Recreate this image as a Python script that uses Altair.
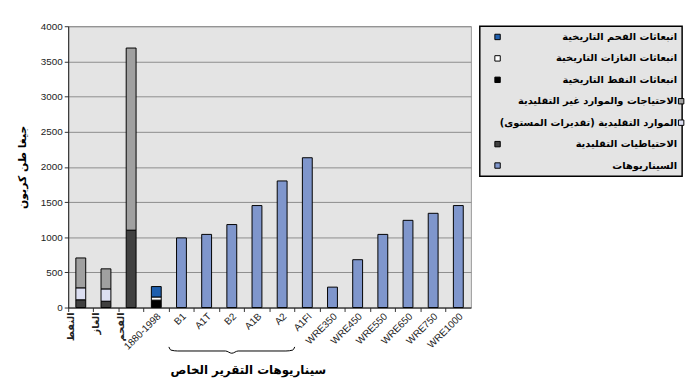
import json
import altair as alt
import pandas as pd

# ---------------- data ----------------
categories = ["النفط", "الغاز", "الفحم", "1880-1998", "B1", "A1T", "B2", "A1B", "A2", "A1FI",
              "WRE350", "WRE450", "WRE550", "WRE650", "WRE750", "WRE1000"]
resource_categories = ["النفط", "الغاز", "الفحم"]
conventional_reserves = [110, 90, 1100]
conventional_resources = [170, 175, 0]
unconventional = [425, 285, 2590]
history_label = "1880-1998"
history_oil = 105
history_gas = 45
history_coal = 148
scenario_labels = ["B1", "A1T", "B2", "A1B", "A2", "A1FI",
                   "WRE350", "WRE450", "WRE550", "WRE650", "WRE750", "WRE1000"]
scenario_values = [990, 1040, 1180, 1450, 1800, 2130, 290, 680, 1040, 1240, 1340, 1450]

series_names = [
    "انبعاثات الفحم التاريخية",
    "انبعاثات الغازات التاريخية",
    "انبعاثات النفط التاريخية",
    "الاحتياجات والموارد غير التقليدية",
    "الموارد التقليدية (تقديرات المستوى)",
    "الاحتياطيات التقليدية",
    "السيناريوهات",
]
series_colors = ["#1f5fae", "#ffffff", "#000000", "#a0a0a0", "#dcdff2", "#404040", "#7f96cc"]

y_title = "جيغا طن كربون"
x_title = "سيناريوهات التقرير الخاص"
y_ticks = [0, 500, 1000, 1500, 2000, 2500, 3000, 3500, 4000]

# brace under the SRES scenarios (x in category-index units, y in data units)
brace_x = [4.0, 4.08, 4.35, 6.25, 6.5, 6.75, 8.65, 8.92, 9.0]
brace_y = [-560, -605, -618, -618, -650, -618, -618, -605, -560]

# ---------------- tables ----------------
rows = []
for c, a, b, u in zip(resource_categories, conventional_reserves, conventional_resources, unconventional):
    rows += [(c, series_names[5], a), (c, series_names[4], b), (c, series_names[3], u)]
rows += [(history_label, series_names[2], history_oil),
         (history_label, series_names[1], history_gas),
         (history_label, series_names[0], history_coal)]
rows += [(c, series_names[6], v) for c, v in zip(scenario_labels, scenario_values)]
df = pd.DataFrame(rows, columns=["cat", "series", "value"])
df = df[df["value"] > 0].copy()
df["idx"] = df["series"].map({n: i for i, n in enumerate(series_names)})

W, H = 408, 285
xscale = alt.Scale(domain=categories, paddingInner=0, paddingOuter=0)
yscale = alt.Scale(domain=[0, 4000], nice=False)
color = alt.Color("series:N", scale=alt.Scale(domain=series_names, range=series_colors), legend=None)

arabic_expr = "indexof(" + json.dumps(resource_categories, ensure_ascii=False) + ", datum.value) >= 0 ? '' : datum.label"

bars = alt.Chart(df).mark_bar(size=10, stroke="black", strokeWidth=1).encode(
    x=alt.X("cat:N", scale=xscale, sort=categories,
            axis=alt.Axis(title=x_title, bandPosition=0, labelOffset=3, labelAngle=-45,
                          labelAlign="right", labelBaseline="middle", labelExpr=arabic_expr,
                          tickSize=4, tickColor="#333", domainColor="#222",
                          labelFont="Liberation Sans", labelFontSize=10, labelColor="#222",
                          labelPadding=3,
                          titleFont="DejaVu Sans", titleFontSize=12, titleFontWeight="bold",
                          titleColor="black", titleX=182, titleY=63, titleAlign="center",
                          titleBaseline="middle")),
    y=alt.Y("value:Q", stack="zero", scale=yscale,
            axis=alt.Axis(values=y_ticks, format="d", grid=True, gridColor="#8c8c8c", gridWidth=1,
                          tickSize=4, tickColor="#333", domainColor="#222",
                          labelFont="Liberation Sans", labelFontSize=10, labelColor="#222",
                          labelPadding=2,
                          title=y_title, titleFont="DejaVu Sans", titleFontSize=11,
                          titleFontWeight="bold", titleColor="black", titlePadding=13)),
    color=color,
    order=alt.Order("idx:Q", sort="descending"),
)

# rotated labels for the three fuel categories (dy acts across the rotated text)
arab_labels = alt.Chart(pd.DataFrame({"cat": resource_categories})).mark_text(
    angle=270, align="right", baseline="middle", font="DejaVu Sans", fontSize=10,
    fontWeight="bold", color="#222", dy=-10
).encode(
    x=alt.X("cat:N", scale=xscale, sort=categories, axis=None),
    y=alt.value(H + 5),
    text="cat:N",
)

brace = alt.Chart(pd.DataFrame({"bx": brace_x, "by": brace_y})).mark_line(
    color="black", strokeWidth=1, interpolate="monotone"
).encode(
    x=alt.X("bx:Q", scale=alt.Scale(domain=[0, len(categories)], nice=False, zero=False), axis=None),
    y=alt.Y("by:Q", scale=alt.Scale(domain=[0, 4000], nice=False), axis=None),
    order="bx:Q",
)

main = alt.layer(bars, arab_labels, brace).resolve_scale(
    x="independent", y="independent"
).properties(width=W, height=H, view=alt.ViewBackground(fill="#e4e4e4", stroke="#999999"))

# ---------------- legend panel ----------------
leg_df = pd.DataFrame({"series": series_names})
leg_y = alt.Y("series:N", scale=alt.Scale(domain=series_names, paddingInner=0, paddingOuter=0), axis=None)
leg_text = alt.Chart(leg_df).mark_text(
    align="right", baseline="middle", font="DejaVu Sans", fontSize=10, fontWeight="bold", color="black"
).encode(y=leg_y, x=alt.value(200), text="series:N")
sym_left = alt.Chart(leg_df).transform_filter("length(datum.series) < 30").mark_square(
    size=30, stroke="black", strokeWidth=1, opacity=1
).encode(y=leg_y, x=alt.value(18), color=color)
sym_right = alt.Chart(leg_df).transform_filter("length(datum.series) >= 30").mark_square(
    size=30, stroke="black", strokeWidth=1, opacity=1
).encode(y=leg_y, x=alt.value(204), color=color)

legend = alt.layer(sym_left, sym_right, leg_text).properties(
    width=205, height=152,
    view=alt.ViewBackground(fill="#e4e4e4", stroke="black", strokeWidth=1.5),
)

chart = alt.hconcat(main, legend, spacing=9, bounds="flush").properties(
    padding={"left": 8, "top": 10, "right": 5, "bottom": 5},
    background="white",
)

chart.save("out.html", embed_options={"renderer": "svg", "actions": False})
